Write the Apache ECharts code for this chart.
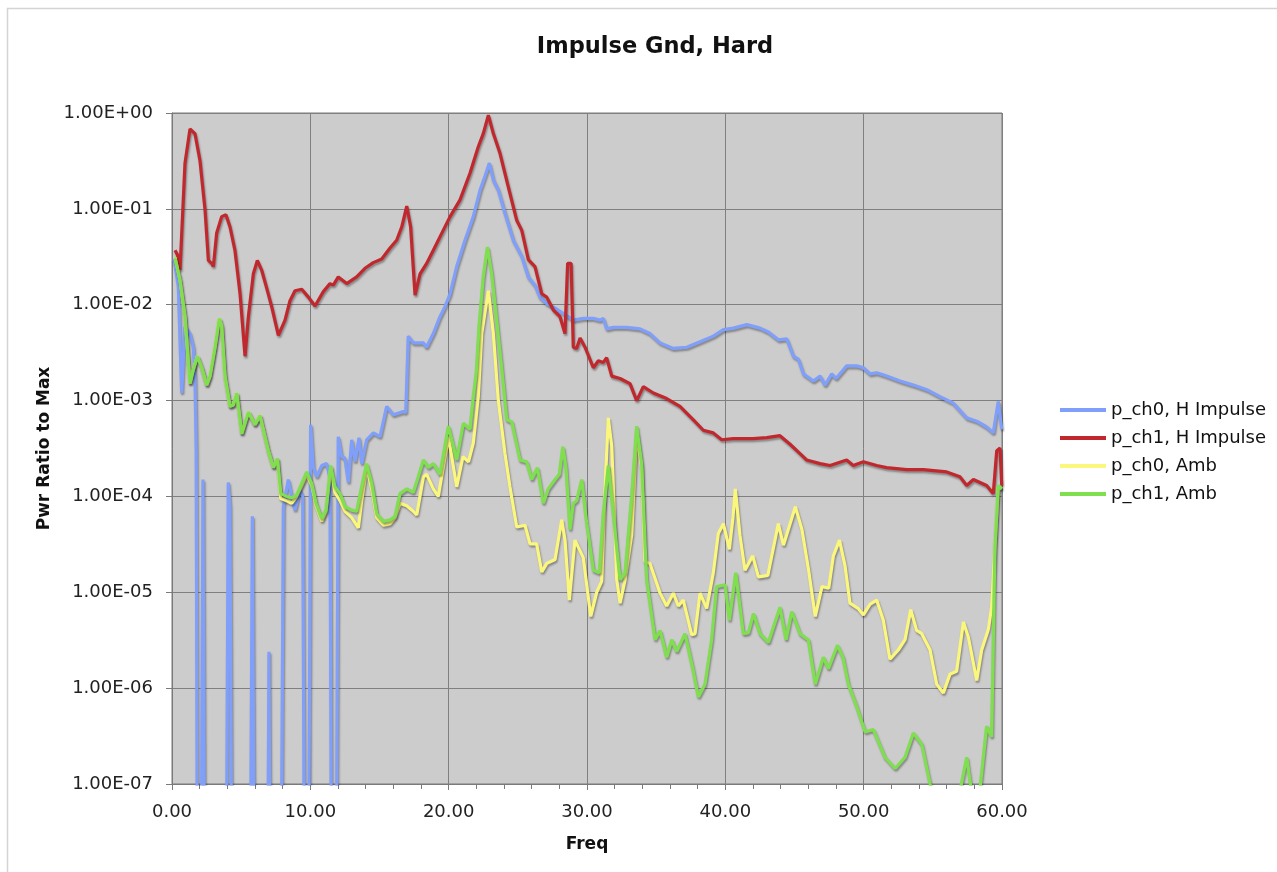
<!DOCTYPE html>
<html>
<head>
<meta charset="utf-8">
<script src="https://cdn.jsdelivr.net/npm/echarts@6/dist/echarts.min.js"></script>
<style>
html,body{margin:0;padding:0;background:#fff;}
#chart{width:1277px;height:872px;}
</style>
</head>
<body>
<div id="chart"></div>
<script>
const chartTitle = 'Impulse Gnd, Hard';
const xName = 'Freq';
const yName = 'Pwr Ratio to Max';
const seriesNames = ['p_ch0, H Impulse', 'p_ch1, H Impulse', 'p_ch0, Amb', 'p_ch1, Amb'];
const xTicks = [0, 10, 20, 30, 40, 50, 60];

// p_ch0, H Impulse (blue)
const blueFreq = [0.15,0.46,0.70,0.94,1.3,1.54,1.66,1.75,1.85,2.1,2.24,2.38,3.9,4.07,4.19,4.35,5.64,5.81,5.98,6.89,7.01,7.13,7.86,8.05,8.41,8.65,8.89,9.25,9.45,9.6,9.86,10.02,10.22,10.46,10.82,11.18,11.42,11.55,11.85,12.02,12.27,12.5,12.75,12.99,13.23,13.52,13.71,14.07,14.55,15.04,15.52,15.64,16.0,16.72,16.9,17.08,17.44,18.17,18.4,18.89,19.37,19.73,20.1,20.58,21.18,21.78,22.27,22.63,22.94,23.23,23.59,24.07,24.67,25.28,25.76,26.24,26.6,27.09,27.69,28.29,29.01,29.73,30.46,30.94,31.18,31.42,31.9,32.87,33.83,34.55,35.28,36.24,37.21,38.17,39.13,39.86,40.58,41.55,42.51,43.11,43.83,44.44,44.92,45.28,45.64,46.36,46.85,47.21,47.69,48.0,48.77,49.5,49.98,50.46,50.94,51.66,52.63,53.59,54.56,55.52,56.48,57.45,58.17,58.89,59.37,59.73,59.98];
const blueVal = [0.03,0.0155,0.0012,0.0059,0.005,0.0036,0.0018,0.0003,1e-9,1e-9,1.5e-4,1e-9,1e-9,1.4e-4,7.8e-5,1e-9,1e-9,6.2e-5,1e-9,1e-9,2.4e-6,1e-9,1e-9,7.8e-5,1.5e-4,1.0e-4,7.2e-5,1.17e-4,1.0e-4,1e-9,1e-9,5.6e-4,2.0e-4,1.6e-4,2.1e-4,2.2e-4,1.6e-4,1e-9,1e-9,4.2e-4,2.6e-4,2.5e-4,1.4e-4,3.9e-4,2.3e-4,4.1e-4,2.2e-4,3.9e-4,4.6e-4,4.2e-4,8.7e-4,8.7e-4,7.1e-4,7.7e-4,7.5e-4,0.0047,0.0040,0.0040,0.0036,0.005,0.0075,0.0095,0.013,0.025,0.047,0.083,0.157,0.22,0.30,0.20,0.157,0.09,0.047,0.032,0.0195,0.016,0.012,0.0103,0.0092,0.0081,0.0069,0.0072,0.0072,0.0069,0.0072,0.0056,0.0058,0.0058,0.0056,0.005,0.004,0.0035,0.0036,0.0041,0.0047,0.0055,0.0057,0.0062,0.0057,0.0052,0.0043,0.0044,0.0029,0.0027,0.0019,0.0016,0.0018,0.00145,0.0019,0.0017,0.0023,0.0023,0.0022,0.0019,0.00195,0.0018,0.0016,0.00145,0.0013,0.0011,0.00094,0.00066,0.00061,0.00053,0.00046,0.00098,0.0005];

// p_ch1, H Impulse (red)
const redFreq = [0.22,0.4,0.58,0.94,1.3,1.66,2.02,2.39,2.63,2.87,2.99,3.23,3.59,3.9,4.19,4.55,4.92,5.28,5.52,5.88,6.17,6.48,6.84,7.21,7.69,8.17,8.53,8.89,9.38,9.86,10.34,10.94,11.42,11.66,12.02,12.63,13.35,13.95,14.55,15.16,15.76,16.24,16.61,16.97,17.25,17.57,17.93,18.41,18.89,19.37,20.1,20.82,21.54,22.14,22.5,22.87,23.23,23.71,24.31,24.92,25.28,25.76,26.24,26.73,27.09,27.57,28.05,28.41,28.6,28.85,29.01,29.25,29.5,29.86,30.46,30.82,31.18,31.42,31.79,32.39,33.11,33.59,34.07,34.8,35.76,36.72,37.69,38.41,39.13,39.74,40.58,42.0,42.99,43.95,44.68,45.4,45.88,46.85,47.57,48.77,49.25,49.98,50.94,51.66,53.11,54.31,56.0,56.96,57.45,57.93,58.89,59.37,59.62,59.86,59.98];
const redVal = [0.037,0.033,0.023,0.30,0.68,0.61,0.32,0.097,0.029,0.027,0.025,0.056,0.083,0.087,0.065,0.037,0.013,0.0029,0.0075,0.021,0.029,0.023,0.015,0.0095,0.0048,0.0069,0.011,0.014,0.0145,0.012,0.0097,0.0137,0.0166,0.016,0.0195,0.0166,0.0195,0.024,0.0275,0.030,0.039,0.047,0.065,0.107,0.065,0.0126,0.021,0.027,0.037,0.051,0.083,0.124,0.235,0.445,0.61,0.95,0.61,0.38,0.17,0.076,0.060,0.0295,0.025,0.013,0.012,0.0088,0.0075,0.005,0.027,0.027,0.0036,0.0035,0.0045,0.0036,0.0022,0.0026,0.0025,0.0028,0.0018,0.0017,0.0015,0.0010,0.0014,0.0012,0.00105,0.00087,0.00063,0.00049,0.00046,0.00039,0.0004,0.0004,0.00041,0.00043,0.00035,0.00028,0.00024,0.00022,0.00021,0.00024,0.00021,0.00023,0.00021,0.0002,0.00019,0.00019,0.00018,0.00016,0.00013,0.00015,0.00013,0.000107,0.0003,0.00032,0.00013];

// p_ch0, Amb (yellow)
const yellowFreq = [0.22,0.58,0.94,1.3,1.54,1.83,2.15,2.51,2.75,3.11,3.42,3.59,3.83,4.19,4.43,4.68,5.04,5.52,6.0,6.36,6.96,7.33,7.62,7.86,8.29,8.65,9.01,9.38,9.74,10.1,10.41,10.82,11.13,11.47,11.78,12.15,12.51,12.99,13.47,13.71,14.07,14.44,14.8,15.28,15.76,16.12,16.48,16.97,17.44,17.69,18.17,18.41,18.89,19.25,19.98,20.58,21.03,21.43,21.78,22.14,22.39,22.87,23.23,23.59,24.07,24.43,24.92,25.52,25.88,26.36,26.73,27.09,27.69,28.17,28.41,28.72,29.13,29.73,30.27,30.7,31.06,31.3,31.54,31.79,32.15,32.39,32.75,33.23,33.59,33.95,34.19,34.55,35.28,35.76,36.24,36.6,36.96,37.57,37.81,38.17,38.65,39.13,39.49,39.86,40.29,40.55,40.72,41.06,41.42,41.98,42.39,43.07,43.83,44.2,45.06,45.54,46.02,46.5,46.99,47.47,47.81,48.25,48.65,49.01,49.59,49.98,50.46,50.94,51.42,51.9,52.5,52.99,53.4,53.83,54.2,54.8,55.28,55.76,56.24,56.72,57.21,57.57,58.17,58.53,59.01,59.25,59.49,59.73,59.98];
const yellowVal = [0.031,0.018,0.0075,0.0015,0.0021,0.0029,0.0022,0.00145,0.0018,0.0036,0.0072,0.006,0.0018,0.00087,0.0009,0.0012,0.00045,0.00076,0.00056,0.0007,0.0003,0.0002,0.00025,0.000095,0.00009,0.000085,0.0001,0.00013,0.00017,0.00013,0.00008,0.000055,0.00007,0.0002,0.00011,0.00009,0.00007,0.00006,0.000047,0.00009,0.0002,0.00012,0.00006,0.00005,0.000052,0.00006,0.000085,0.00008,0.00007,0.000064,0.00016,0.00017,0.00012,0.0001,0.00042,0.000126,0.00026,0.00023,0.00036,0.0011,0.005,0.014,0.005,0.001,0.00028,0.000126,0.000048,0.00005,0.000032,0.000032,0.0000163,0.00002,0.000022,0.000057,0.000035,0.0000083,0.000035,0.000023,0.0000056,0.00001,0.000013,0.000117,0.00066,0.00033,0.0000135,0.0000077,0.0000135,0.00004,0.00046,0.0002,0.000021,0.00002,0.0000098,0.0000072,0.0000098,0.0000072,0.0000083,0.0000036,0.0000037,0.0000098,0.0000068,0.000016,0.000041,0.000052,0.000028,0.00006,0.00012,0.000039,0.000017,0.000024,0.0000145,0.000015,0.000052,0.000031,0.000078,0.000045,0.000017,0.0000056,0.0000115,0.000011,0.000024,0.000035,0.000019,0.0000077,0.0000068,0.0000058,0.0000075,0.0000083,0.0000051,0.000002,0.0000025,0.0000032,0.0000066,0.000004,0.0000037,0.0000025,0.0000011,0.00000089,0.0000014,0.0000015,0.0000049,0.0000034,0.0000012,0.0000025,0.0000041,0.000007,0.00003,0.000126,0.00012];

// p_ch1, Amb (green)
const greenFreq = [0.22,0.58,0.94,1.3,1.54,1.83,2.15,2.51,2.75,3.11,3.42,3.59,3.83,4.19,4.43,4.68,5.04,5.52,6.0,6.36,6.96,7.33,7.62,7.86,8.29,8.65,9.01,9.38,9.74,10.1,10.41,10.82,11.13,11.47,11.78,12.15,12.51,12.99,13.35,13.71,14.07,14.44,14.8,15.28,15.76,16.12,16.48,16.97,17.44,17.8,18.17,18.53,18.89,19.37,19.98,20.58,21.06,21.54,21.78,22.0,22.2,22.5,22.8,23.11,23.47,23.83,24.2,24.56,25.16,25.64,26.0,26.41,26.84,27.2,27.69,28.0,28.25,28.48,28.77,29.01,29.25,29.62,29.98,30.46,30.89,31.18,31.54,31.9,32.39,32.75,33.23,33.59,33.95,34.31,34.92,35.28,35.76,36.12,36.48,37.08,37.57,38.05,38.53,39.01,39.37,39.98,40.29,40.75,41.3,41.67,42.03,42.51,43.11,43.95,44.39,44.8,45.4,46.0,46.5,47.08,47.45,48.1,48.5,48.89,49.5,50.1,50.7,51.54,52.27,52.99,53.59,54.2,54.8,55.3,56.5,57.0,57.45,57.81,58.41,58.89,59.25,59.49,59.73,59.98];
const greenVal = [0.031,0.018,0.0075,0.0015,0.0021,0.0029,0.0022,0.00145,0.0018,0.0036,0.0072,0.006,0.0018,0.00087,0.0009,0.0012,0.00045,0.00076,0.00056,0.0007,0.0003,0.0002,0.00025,0.000107,0.0001,0.000097,0.000103,0.000137,0.00018,0.000137,0.000085,0.000059,0.000072,0.00021,0.000126,0.000107,0.000078,0.000072,0.00007,0.000126,0.00022,0.000137,0.000066,0.000055,0.000057,0.000062,0.000107,0.00012,0.00011,0.00016,0.00024,0.0002,0.00022,0.00017,0.00054,0.00024,0.00058,0.0005,0.0011,0.002,0.006,0.0195,0.04,0.021,0.0069,0.0022,0.00063,0.0006,0.00024,0.00023,0.00015,0.0002,0.000085,0.00012,0.00015,0.00017,0.00033,0.0002,0.000045,0.000085,0.00009,0.00015,0.000052,0.000017,0.000016,0.000066,0.00021,0.000066,0.0000135,0.000016,0.0001,0.00054,0.00022,0.0000135,0.0000032,0.000004,0.0000021,0.0000032,0.0000024,0.0000037,0.0000018,0.00000081,0.0000011,0.0000032,0.0000115,0.000012,0.0000051,0.000016,0.0000037,0.0000038,0.000006,0.0000037,0.000003,0.000007,0.0000032,0.0000063,0.0000037,0.0000032,0.0000011,0.0000021,0.0000016,0.0000028,0.0000021,0.0000011,0.00000064,0.00000035,0.00000037,0.00000019,0.000000145,0.00000019,0.00000034,0.00000026,0.0000001,0.00000005,0.00000005,0.00000009,0.00000019,0.00000008,0.00000009,0.0000004,0.00000031,0.00003,0.00013,0.00012];

function pairs(fs, vs) { return fs.map((f, i) => [f, vs[i]]); }
function sci(v) {
  const e = Math.round(Math.log10(v));
  return '1.00E' + (e < 0 ? '-' : '+') + String(Math.abs(e)).padStart(2, '0');
}

const colors = ['#7f9ffb', '#c0282e', '#fbf77c', '#7fdf4f'];
const shadow = { shadowColor: 'rgba(0,0,0,0.35)', shadowBlur: 2, shadowOffsetX: 1, shadowOffsetY: 2 };

const chart = echarts.init(document.getElementById('chart'), null, { renderer: 'canvas' });
const datasets = [pairs(blueFreq, blueVal), pairs(redFreq, redVal), pairs(yellowFreq, yellowVal), pairs(greenFreq, greenVal)];

chart.setOption({
  animation: false,
  backgroundColor: '#ffffff',
  title: {
    text: chartTitle,
    left: 650, top: 31, textAlign: 'center',
    textStyle: { fontFamily: 'DejaVu Sans', fontWeight: 'bold', fontSize: 22.5, color: '#111' }
  },
  graphic: [{
    type: 'rect', left: 5, top: 6, shape: { width: 1300, height: 900 },
    style: { fill: 'none', stroke: '#d4d4d4', lineWidth: 1.5 }, silent: true, z: -1
  }],
  legend: {
    orient: 'vertical', left: 1055, top: 395,
    icon: 'rect', itemWidth: 46, itemHeight: 4, itemGap: 8,
    textStyle: { fontFamily: 'DejaVu Sans', fontSize: 18, color: '#111', lineHeight: 20 },
    data: seriesNames
  },
  grid: {
    left: 172, right: 275, top: 113, bottom: 88,
    show: true, backgroundColor: '#cccccc', borderColor: '#7a7a7a', borderWidth: 1
  },
  xAxis: {
    type: 'value', min: xTicks[0], max: xTicks[xTicks.length - 1], interval: 10,
    name: xName, nameLocation: 'middle', nameGap: 52,
    nameTextStyle: { fontFamily: 'DejaVu Sans', fontWeight: 'bold', fontSize: 17, color: '#111' },
    axisLine: { show: true, lineStyle: { color: '#7a7a7a' } },
    axisTick: { show: true, length: 6, lineStyle: { color: '#7a7a7a' } },
    minorTick: { show: true, splitNumber: 5, length: 5, lineStyle: { color: '#7a7a7a' } },
    axisLabel: { margin: 19, fontFamily: 'DejaVu Sans', fontSize: 18, color: '#222', formatter: v => v.toFixed(2) },
    splitLine: { show: true, lineStyle: { color: '#7f7f7f', width: 1 } }
  },
  yAxis: {
    type: 'log', logBase: 10, min: 1e-7, max: 1,
    name: yName, nameLocation: 'middle', nameGap: 118, nameRotate: 90,
    nameTextStyle: { fontFamily: 'DejaVu Sans', fontWeight: 'bold', fontSize: 17, color: '#111' },
    axisLine: { show: true, lineStyle: { color: '#7a7a7a' } },
    axisTick: { show: true, length: 6, lineStyle: { color: '#7a7a7a' } },
    axisLabel: { margin: 19, fontFamily: 'DejaVu Sans', fontSize: 18, color: '#222', formatter: v => sci(v) },
    splitLine: { show: true, lineStyle: { color: '#7f7f7f', width: 1 } }
  },
  series: seriesNames.map((name, i) => ({
    name: name, type: 'line', data: datasets[i],
    showSymbol: false, symbol: 'none', clip: true, smooth: false,
    color: colors[i],
    lineStyle: Object.assign({ color: colors[i], width: 3.2 }, shadow),
    z: 2 + i
  }))
});
</script>
</body>
</html>
